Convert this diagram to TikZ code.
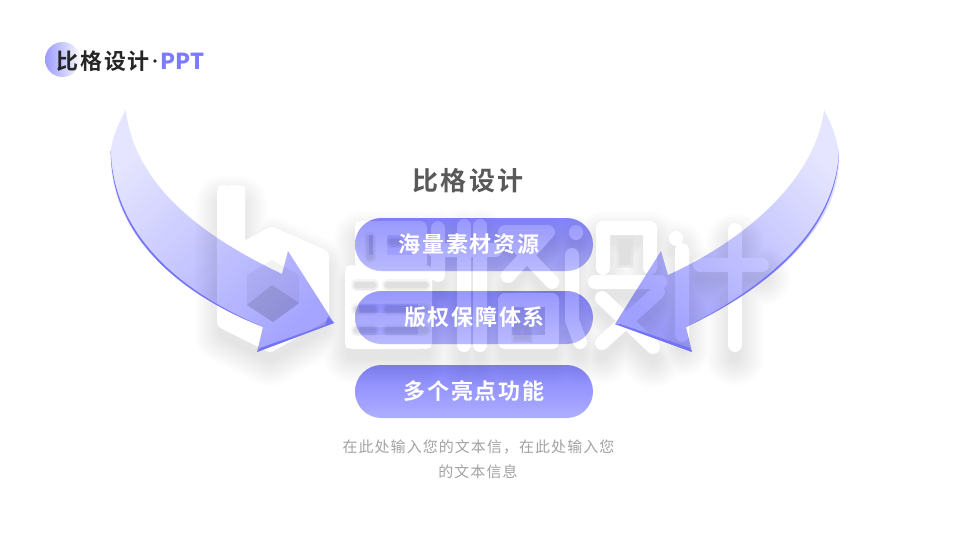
\documentclass[tikz,border=0pt]{standalone}
\usepackage{fontspec}
\setmainfont{Noto Sans CJK SC}
\newfontfamily\cjkbold[LetterSpace=8,BoldFont={Noto Sans CJK SC Bold}]{Noto Sans CJK SC}
\newfontfamily\cjkreg[LetterSpace=7]{Noto Sans CJK SC}
\definecolor{accent}{HTML}{7B7BFF}
\definecolor{edgeblue}{HTML}{7373F8}
\definecolor{btntop}{HTML}{8484FC}
\definecolor{btnbot}{HTML}{AEAEFF}
\definecolor{gapgray}{HTML}{E0E0E0}
\tikzset{
  x=1pt,y=-1pt,
  btn/.style={rounded corners=26.4pt,top color=btntop,bottom color=btnbot,blend mode=multiply},
  btntext/.style={text=white,font=\cjkbold\bfseries\fontsize{22}{26}\selectfont,inner sep=0pt},
  gap/.style={draw=gapgray,line width=6pt,line cap=round},
  gapsoft/.style={draw=gapgray,line width=9pt,line cap=round,opacity=.5},
  gapsofter/.style={draw=gapgray,line width=12pt,line cap=round,opacity=.3},
}
\newcommand{\gapline}[1]{\draw[gapsofter] #1;\draw[gapsoft] #1;\draw[gap] #1;}
\newcommand{\wmpath}{
  (224,192)--(224,322)--(270,345)--(322,315)--(322,256)--(272,234)--(238,252)--(238,192)
  (231,192)--(231,322)
  (358,272)--(420,272) (358,297)--(420,297) (358,320)--(420,320) (352,342)--(420,342)
  (352,272)--(352,342) (425,272)--(425,342)
  (362,228)--(420,228) (362,228)--(362,262) (380,228)--(380,262) (362,262)--(420,262) (420,228)--(420,262)
  (438,228)--(438,275) (464,226)--(464,345) (480,226)--(480,345) (434,250)--(495,250)
  (505,232)--(548,232) (548,232)--(508,276) (510,238)--(552,282)
  (505,300)--(552,300) (505,300)--(505,342) (552,300)--(552,342) (505,342)--(552,342)
  (576,232)--(576,233) (572,255)--(572,320)--(580,342)
  (603,228)--(650,228) (603,228)--(603,268) (650,228)--(650,268) (595,282)--(660,282)
  (602,298)--(653,347) (658,292)--(602,343)
  (676,238)--(676,239) (682,250)--(682,335)
  (700,265)--(762,265) (735,230)--(735,345)
}
\begin{document}
\begin{tikzpicture}
\useasboundingbox (0,0) rectangle (960,540);
\fill[white] (0,0) rectangle (960,540);
% soft shadow of the watermark
\begin{scope}[yshift=-12pt]
\foreach \w in {10,14,...,58}{
  \draw[black,opacity=.0095,line width=\w pt,line cap=round,line join=round] \wmpath;
}
\end{scope}
% white watermark
\draw[white,line width=14pt,line cap=round,line join=round] \wmpath;
\fill[white] (218,186)--(245,186)--(245,247)--(272,229)--(328,253)--(328,318)--(270,351)--(218,325)--cycle;
\fill[white] (346,266) rectangle (431,348);
\fill[white] (356,222) rectangle (426,268);
% gaps in the watermark
\foreach \a/\b in {357/373,388/425}{
  \gapline{(\a,285)--(\b,285)}
  \gapline{(\a,309)--(\b,309)}
  \gapline{(\a,330)--(\b,330)}
}
\gapline{(370,238)--(370,257)}
\gapline{(392,242)--(398,242)}
\gapline{(517,326)--(527,326)--(527,337)--(517,337)--cycle}
\gapline{(622,242)--(628,242)--(628,262)--(622,262)--cycle}
% cube inside the mark
\fill[gray!10] (247,275)--(272,260)--(299,275)--(299,303)--(273,322)--(247,305)--cycle;
\fill[gray!30] (247,305)--(272,285)--(299,303)--(273,322)--cycle;
% left arrow
\shade[blend mode=multiply,left color=white!80!accent,right color=accent!68!white,shading angle=45]
  (125.7,110) .. controls (115,130) and (110,145) .. (110.7,158)
  .. controls (112,230) and (170,290) .. (263,327)
  -- (257,352) -- (334,323) -- (288,251) -- (282,274)
  .. controls (200,235) and (135,185) .. (125.7,110) -- cycle;
\fill[edgeblue] (110.7,150) .. controls (110.7,230) and (170,290) .. (263,327)
  .. controls (172,288) and (113,230) .. (110.7,150) -- cycle;
\fill[edgeblue] (334,323) -- (257,352) -- (260,348) -- (325,325) -- (328,317) -- cycle;
% right arrow
\shade[blend mode=multiply,left color=accent!72!white,right color=white!80!accent,shading angle=135]
  (824,110) .. controls (835,130) and (839.5,148) .. (839,162)
  .. controls (838,225) and (775,285) .. (686,327)
  -- (692,352) -- (615,324) -- (661,251) -- (668,275)
  .. controls (745,240) and (815,180) .. (824,110) -- cycle;
\fill[edgeblue] (839,150) .. controls (838.5,225) and (775,285) .. (686,327)
  .. controls (773,283) and (836.5,225) .. (839,150) -- cycle;
\fill[edgeblue] (615,324) -- (692,352) -- (690,348) -- (620,324) -- cycle;
% header
\shade[left color=accent!75!white,right color=white!94!accent] (62.5,59.5) circle (17.5);
\node[anchor=west,inner sep=0pt,text=black!85,font=\cjkbold\bfseries\fontsize{22}{26}\selectfont] (brand) at (56.5,61) {比格设计};
\node[circle,fill=black!85,minimum size=3.6pt,inner sep=0pt] (dot) at (155,61) {};
\node[anchor=west,inner sep=0pt,text=accent,font=\bfseries\fontsize{22}{26}\selectfont] (ppt) at (160.5,61.5) {PPT};
% title
\node[inner sep=0pt,text=black!65,font=\cjkbold\bfseries\fontsize{26}{30}\selectfont] (title) at (468,181) {比格设计};
% buttons
\path[btn] (355,218) rectangle (593,271);
\path[btn] (355,291) rectangle (593,344);
\path[btn] (355,365) rectangle (593,418);
% the white mark glows faintly through the two upper buttons
\begin{scope}
\clip[rounded corners=26.4pt] (355,218) rectangle (593,271);
\draw[white,opacity=.16,line width=14pt,line cap=round,line join=round] \wmpath;
\end{scope}
\begin{scope}
\clip[rounded corners=26.4pt] (355,291) rectangle (593,344);
\draw[white,opacity=.16,line width=14pt,line cap=round,line join=round] \wmpath;
\end{scope}
\node[btntext] (b1) at (469,244) {海量素材资源};
\node[btntext] (b2) at (474.5,317) {版权保障体系};
\node[btntext] (b3) at (474,391) {多个亮点功能};
% footer
\node[inner sep=0pt,text=black!36,font=\cjkreg\fontsize{15}{18}\selectfont] (f1) at (478.5,447) {在此处输入您的文本信，在此处输入您};
\node[inner sep=0pt,text=black!36,font=\cjkreg\fontsize{15}{18}\selectfont] (f2) at (478,472) {的文本信息};
\end{tikzpicture}
\end{document}
